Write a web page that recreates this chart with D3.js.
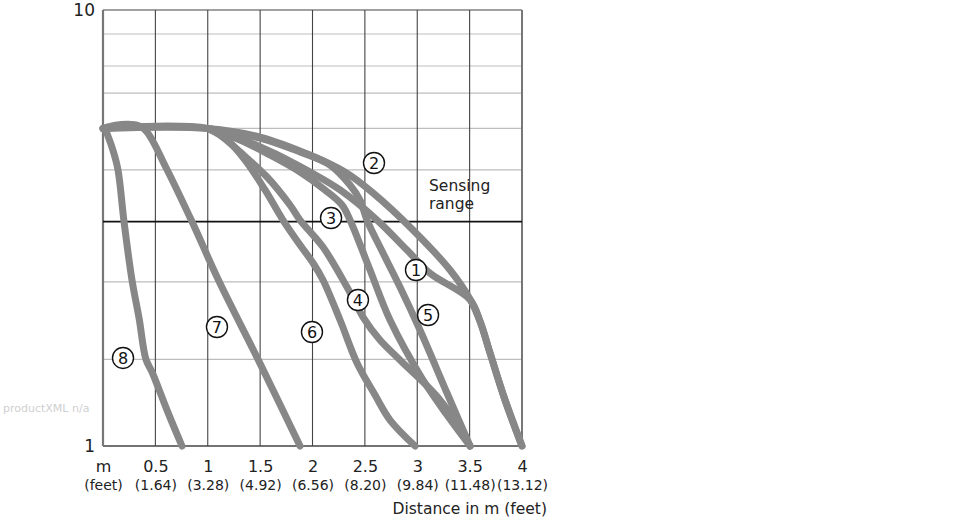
<!DOCTYPE html>
<html><head><meta charset="utf-8">
<script src="https://cdn.jsdelivr.net/npm/d3@7"></script>
<style>
body{margin:0;background:#fff;}
text{font-family:"DejaVu Sans",sans-serif;}
</style></head>
<body><svg id="c" width="970" height="520"></svg>
<script>
// ---- data ----
const xTicks = [0, 0.5, 1, 1.5, 2, 2.5, 3, 3.5, 4];
const xLabelsM = ["m", "0.5", "1", "1.5", "2", "2.5", "3", "3.5", "4"];
const xLabelsFt = ["(feet)", "(1.64)", "(3.28)", "(4.92)", "(6.56)", "(8.20)", "(9.84)", "(11.48)", "(13.12)"];
const yTicks = [1, 10];
const yGrid = [1.58, 2.38, 4.30, 5.35, 6.45, 7.44, 8.81];
const sensingRange = 3.27;

const curve1 = [[0,5.35],[1.0,5.35],[1.566,4.774],[1.976,4.25],[2.263,3.866],[2.616,3.298],[2.902,2.815],[3.122,2.49],[3.504,2.165],[3.60,1.93],[3.695,1.634],[3.838,1.275],[4.0,1.0]];
const curve2 = [[0,5.35],[1.0,5.35],[1.499,5.113],[1.976,4.649],[2.31,4.25],[2.578,3.805],[2.959,3.13],[3.313,2.533],[3.504,2.17],[3.60,1.93],[3.695,1.634],[3.838,1.275],[4.0,1.0]];
const curve3 = [[1.0,5.35],[1.308,5.033],[1.594,4.649],[1.881,4.25],[2.119,3.866],[2.282,3.571],[2.358,3.298],[2.549,2.533],[2.74,1.945],[3.055,1.417],[3.284,1.178],[3.504,1.0]];
const curve4 = [[1.0,5.35],[1.117,5.167],[1.308,4.725],[1.566,4.14],[1.785,3.571],[1.881,3.298],[2.1,2.86],[2.329,2.315],[2.482,1.976],[2.644,1.75],[2.835,1.575],[3.217,1.275],[3.504,1.0]];
const curve5 = [[1.0,5.35],[1.499,5.086],[1.881,4.725],[2.167,4.411],[2.358,3.969],[2.453,3.667],[2.52,3.298],[2.673,2.771],[2.835,2.315],[3.026,1.845],[3.284,1.323],[3.504,1.0]];
const curve6 = [[1.0,5.35],[1.165,5.086],[1.356,4.529],[1.547,3.866],[1.718,3.298],[1.881,2.891],[2.005,2.629],[2.1,2.403],[2.263,1.945],[2.425,1.55],[2.597,1.309],[2.74,1.147],[2.979,1.0]];
const curve7 = [[0,5.35],[0.12,5.44],[0.23,5.47],[0.34,5.43],[0.42,5.25],[0.613,4.296],[0.847,3.28],[1.11,2.38],[1.48,1.58],[1.881,1.0]];
const curve8 = [[0.02,5.35],[0.095,4.77],[0.143,4.30],[0.20,3.28],[0.277,2.40],[0.345,1.96],[0.41,1.58],[0.468,1.478],[0.611,1.209],[0.754,1.0]];
const curves = [curve1, curve2, curve3, curve4, curve5, curve6, curve7, curve8];

const labelNames = ["1","2","3","4","5","6","7","8"];
const labelX = [2.988, 2.587, 2.177, 2.434, 3.103, 1.995, 1.088, 0.191];
const labelY = [2.533, 4.458, 3.334, 2.162, 1.997, 1.826, 1.875, 1.592];

// ---- drawing ----
const svg = d3.select("#c");
const x = d3.scaleLinear().domain([0, 4]).range([103, 522]);
const y = d3.scaleLog().domain([1, 10]).range([446, 10]);

// horizontal light grid
svg.append("g").selectAll("line").data(yGrid).join("line")
  .attr("x1", x(0)).attr("x2", x(4))
  .attr("y1", d => y(d)).attr("y2", d => y(d))
  .attr("stroke", "#bdbdbd").attr("stroke-width", 1.2);

// vertical dark grid
svg.append("g").selectAll("line").data(xTicks.slice(1, -1)).join("line")
  .attr("x1", d => x(d)).attr("x2", d => x(d))
  .attr("y1", y(10)).attr("y2", y(1))
  .attr("stroke", "#444").attr("stroke-width", 1.1);

// frame
svg.append("line").attr("x1", x(0)).attr("x2", x(4)).attr("y1", y(10)).attr("y2", y(10))
  .attr("stroke", "#444").attr("stroke-width", 1.2);
svg.append("line").attr("x1", x(4)).attr("x2", x(4)).attr("y1", y(10)).attr("y2", y(1))
  .attr("stroke", "#777").attr("stroke-width", 2);
svg.append("line").attr("x1", x(0)).attr("x2", x(4)).attr("y1", y(1)).attr("y2", y(1))
  .attr("stroke", "#444").attr("stroke-width", 1.3);
svg.append("line").attr("x1", x(0)).attr("x2", x(0)).attr("y1", y(10)).attr("y2", y(1))
  .attr("stroke", "#777").attr("stroke-width", 2.2);

// sensing range line
svg.append("line").attr("x1", x(0)).attr("x2", x(4))
  .attr("y1", y(sensingRange)).attr("y2", y(sensingRange))
  .attr("stroke", "#111").attr("stroke-width", 1.6);

// curves
const line = d3.line().x(d => x(d[0])).y(d => y(d[1])).curve(d3.curveCatmullRom.alpha(0.5));
svg.append("g").selectAll("path").data(curves).join("path")
  .attr("d", line).attr("fill", "none")
  .attr("stroke", "#878787").attr("stroke-width", 7)
  .attr("stroke-linecap", "round").attr("stroke-linejoin", "round");

// circled labels
const lg = svg.append("g").selectAll("g").data(labelNames).join("g")
  .attr("transform", (d, i) => `translate(${x(labelX[i])},${y(labelY[i])})`);
lg.append("circle").attr("r", 10.5).attr("fill", "#fff").attr("stroke", "#111").attr("stroke-width", 1.4);
lg.append("text").text(d => d).attr("text-anchor", "middle").attr("dy", "0.36em")
  .attr("font-size", 16).attr("fill", "#111");

// sensing range text
svg.append("text").attr("x", 429).attr("y", 191).attr("font-size", 15.5).attr("fill", "#222").text("Sensing");
svg.append("text").attr("x", 429).attr("y", 209).attr("font-size", 15.5).attr("fill", "#222").text("range");

// y axis
const yAx = svg.append("g").attr("transform", `translate(${x(0)},0)`)
  .call(d3.axisLeft(y).tickValues(yTicks).tickFormat(d3.format("d")).tickSize(0).tickPadding(8));
yAx.select(".domain").remove();
yAx.selectAll("text").attr("font-size", 17).attr("fill", "#222").style("font-family", '"DejaVu Sans",sans-serif');

// x axis rows
const xAx1 = svg.append("g").attr("transform", `translate(0,${y(1)})`)
  .call(d3.axisBottom(x).tickValues(xTicks).tickFormat((d, i) => xLabelsM[i]).tickSize(0));
xAx1.select(".domain").remove();
xAx1.selectAll("text").attr("y", 26).attr("dy", 0).attr("font-size", 16).attr("fill", "#222")
  .style("font-family", '"DejaVu Sans",sans-serif');
const xAx2 = svg.append("g").attr("transform", `translate(0,${y(1)})`)
  .call(d3.axisBottom(x).tickValues(xTicks).tickFormat((d, i) => xLabelsFt[i]).tickSize(0));
xAx2.select(".domain").remove();
xAx2.selectAll("text").attr("y", 43.5).attr("dy", 0).attr("font-size", 14).attr("fill", "#222")
  .style("font-family", '"DejaVu Sans",sans-serif');

svg.append("text").attr("x", 547).attr("y", 514).attr("text-anchor", "end")
  .attr("font-size", 15.5).attr("fill", "#222").text("Distance in m (feet)");

svg.append("text").attr("x", 3).attr("y", 412).attr("font-size", 11).attr("fill", "#cfcfcf")
  .text("productXML n/a");
</script></body></html>
